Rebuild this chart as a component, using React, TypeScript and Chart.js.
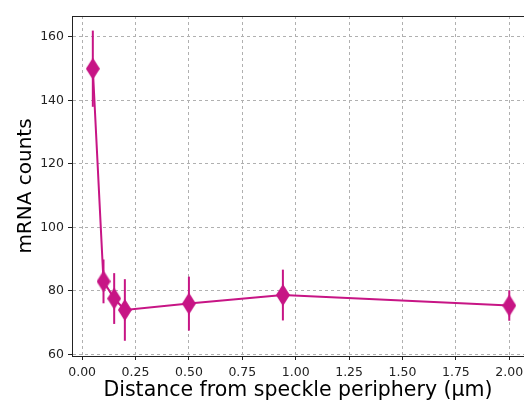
import React, { useEffect, useRef } from "react";
import { Chart, registerables } from "chart.js";

Chart.register(...registerables);

const distances = [0.05, 0.1, 0.15, 0.2, 0.5, 0.94, 2.0];
const counts = [150, 83, 77.6, 74, 76, 78.7, 75.4];
const errors = [12, 6.9, 8, 9.7, 8.5, 8, 4.8];
const xTicks = [0, 0.25, 0.5, 0.75, 1.0, 1.25, 1.5, 1.75, 2.0];
const yTicks = [60, 80, 100, 120, 140, 160];

const COLOR = "#c71585";

function makeDiamond(): HTMLCanvasElement {
  const c = document.createElement("canvas");
  const w = 14;
  const h = 22;
  c.width = w;
  c.height = h;
  const ctx = c.getContext("2d")!;
  ctx.fillStyle = COLOR;
  ctx.beginPath();
  ctx.moveTo(w / 2, 0);
  ctx.lineTo(w, h / 2);
  ctx.lineTo(w / 2, h);
  ctx.lineTo(0, h / 2);
  ctx.closePath();
  ctx.fill();
  return c;
}

const errorBarPlugin = {
  id: "errorBars",
  beforeDatasetsDraw(chart: any) {
    const { ctx, scales } = chart;
    const xs = scales.x;
    const ys = scales.y;
    ctx.save();
    ctx.strokeStyle = COLOR;
    ctx.lineWidth = 2;
    distances.forEach((d, i) => {
      const px = xs.getPixelForValue(d);
      ctx.beginPath();
      ctx.moveTo(px, ys.getPixelForValue(counts[i] - errors[i]));
      ctx.lineTo(px, ys.getPixelForValue(counts[i] + errors[i]));
      ctx.stroke();
    });
    ctx.restore();
  },
};

const framePlugin = {
  id: "frame",
  afterDraw(chart: any) {
    const { ctx, chartArea } = chart;
    ctx.save();
    ctx.strokeStyle = "#222";
    ctx.lineWidth = 1;
    ctx.beginPath();
    ctx.moveTo(chartArea.left, chartArea.top + 0.5);
    ctx.lineTo(chartArea.right, chartArea.top + 0.5);
    ctx.stroke();
    ctx.restore();
  },
};

export default function App() {
  const ref = useRef<HTMLCanvasElement>(null);
  useEffect(() => {
    document.body.style.margin = "0";
    const diamond = makeDiamond();
    const chart = new Chart(ref.current!, {
      type: "scatter",
      data: {
        datasets: [
          {
            data: distances.map((d, i) => ({ x: d, y: counts[i] })),
            showLine: true,
            borderColor: COLOR,
            backgroundColor: COLOR,
            borderWidth: 2,
            pointStyle: diamond as any,
            pointRadius: 8,
          },
        ],
      },
      options: {
        animation: false,
        responsive: false,
        devicePixelRatio: 1,
        layout: { autoPadding: false, padding: { top: 16, right: 0, left: 0, bottom: 0 } },
        plugins: { legend: { display: false }, tooltip: { enabled: false } },
        scales: {
          x: {
            type: "linear",
            min: -0.0475,
            max: 2.069,
            afterBuildTicks: (s: any) => {
              s.ticks = xTicks.map((v) => ({ value: v }));
            },
            afterFit: (s: any) => {
              s.height = 47;
              s.paddingLeft = 0;
              s.paddingRight = 0;
            },
            ticks: {
              color: "#222",
              font: { family: "DejaVu Sans", size: 12.5 },
              padding: 5,
              maxRotation: 0,
              autoSkip: false,
              callback: (v: any) => Number(v).toFixed(2),
            },
            grid: {
              color: "#b0b0b0",
              lineWidth: 1,
              tickColor: "#222",
              tickLength: 4,
              tickBorderDash: [],
            },
            border: { display: true, color: "#222", width: 1, dash: [3, 3] },
            title: {
              display: true,
              text: "Distance from speckle periphery (μm)",
              color: "#000",
              font: { family: "DejaVu Sans", size: 20.5 },
              padding: { top: 0, bottom: 0 },
            },
          },
          y: {
            type: "linear",
            min: 59.5,
            max: 166.6,
            afterBuildTicks: (s: any) => {
              s.ticks = yTicks.map((v) => ({ value: v }));
            },
            afterFit: (s: any) => {
              s.width = 72;
              s.paddingTop = 0;
              s.paddingBottom = 0;
            },
            ticks: {
              color: "#222",
              font: { family: "DejaVu Sans", size: 12.5 },
              padding: 4,
              autoSkip: false,
            },
            grid: {
              color: "#b0b0b0",
              lineWidth: 1,
              tickColor: "#222",
              tickLength: 4,
              tickBorderDash: [],
            },
            border: { display: true, color: "#222", width: 1, dash: [3, 3] },
            title: {
              display: true,
              text: "mRNA counts",
              color: "#000",
              font: { family: "DejaVu Sans", size: 20 },
              padding: { top: 14, bottom: 0 },
            },
          },
        },
      },
      plugins: [errorBarPlugin, framePlugin],
    });
    return () => chart.destroy();
  }, []);
  return (
    <div style={{ position: "fixed", left: 0, top: 0, width: 524, height: 403, overflow: "hidden" }}>
      <canvas ref={ref} width={524} height={403} style={{ width: 524, height: 403 }} />
    </div>
  );
}
